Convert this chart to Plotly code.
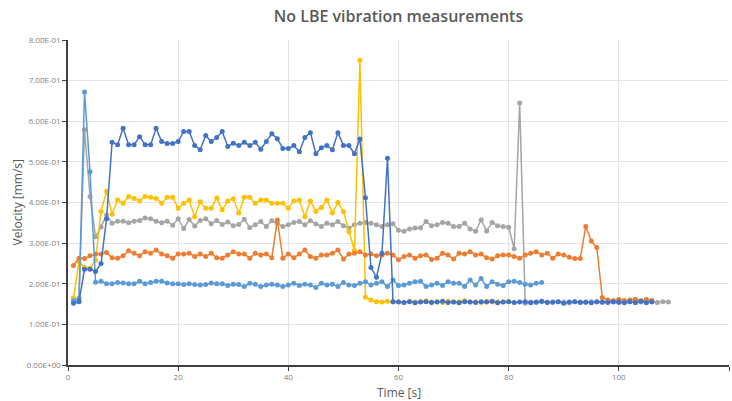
import plotly.graph_objects as go

# ---------------- data (time in s, velocity in mm/s) ----------------
time_s = list(range(1, 111))

dark_blue = [0.152, 0.156, 0.236, 0.236, 0.230, 0.250, 0.360, 0.548, 0.542, 0.583,
             0.542, 0.542, 0.562, 0.542, 0.542, 0.583, 0.550, 0.545, 0.545, 0.550,
             0.575, 0.575, 0.540, 0.530, 0.565, 0.550, 0.560, 0.575, 0.538, 0.546,
             0.540, 0.548, 0.540, 0.548, 0.531, 0.550, 0.569, 0.557, 0.533, 0.533,
             0.540, 0.525, 0.560, 0.572, 0.520, 0.535, 0.540, 0.530, 0.572, 0.540,
             0.540, 0.520, 0.556, 0.412, 0.240, 0.216, 0.275, 0.509,
             0.156, 0.155, 0.154, 0.156, 0.153, 0.155, 0.156, 0.154, 0.155, 0.157,
             0.154, 0.155, 0.153, 0.156, 0.155, 0.154, 0.156, 0.155, 0.157, 0.153,
             0.155, 0.156, 0.154, 0.155, 0.156, 0.153, 0.155, 0.157, 0.154, 0.155,
             0.156, 0.152, 0.155, 0.156, 0.154, 0.155, 0.153, 0.156, 0.155, 0.154,
             0.156, 0.155, 0.153, 0.156, 0.154, 0.157, 0.153, 0.156]

orange = [0.245, 0.263, 0.262, 0.269, 0.273, 0.273, 0.277, 0.264, 0.263, 0.269,
          0.281, 0.275, 0.269, 0.279, 0.275, 0.283, 0.273, 0.269, 0.263, 0.273,
          0.273, 0.275, 0.267, 0.273, 0.267, 0.275, 0.264, 0.263, 0.271, 0.279,
          0.273, 0.273, 0.263, 0.275, 0.271, 0.273, 0.264, 0.357, 0.263, 0.273,
          0.264, 0.273, 0.283, 0.267, 0.263, 0.271, 0.271, 0.275, 0.283, 0.261,
          0.273, 0.275, 0.279, 0.271, 0.273, 0.269, 0.271, 0.275, 0.271, 0.259,
          0.267, 0.271, 0.263, 0.269, 0.271, 0.260, 0.263, 0.275, 0.271, 0.261,
          0.275, 0.273, 0.279, 0.271, 0.273, 0.264, 0.261, 0.269, 0.271, 0.271,
          0.267, 0.263, 0.271, 0.275, 0.279, 0.271, 0.275, 0.263, 0.273, 0.271,
          0.265, 0.262, 0.262, 0.341, 0.305, 0.289, 0.166,
          0.160, 0.158, 0.161, 0.159, 0.160, 0.162, 0.158, 0.161, 0.159]

gray = [0.163, 0.165, 0.579, 0.415, 0.316, 0.340, 0.369, 0.349, 0.354, 0.354,
        0.350, 0.354, 0.356, 0.362, 0.360, 0.354, 0.350, 0.354, 0.344, 0.360,
        0.336, 0.358, 0.342, 0.356, 0.360, 0.348, 0.356, 0.346, 0.352, 0.343,
        0.346, 0.359, 0.338, 0.345, 0.353, 0.341, 0.355, 0.349, 0.341, 0.345,
        0.351, 0.353, 0.345, 0.355, 0.347, 0.341, 0.349, 0.345, 0.353, 0.343,
        0.337, 0.345, 0.349, 0.351, 0.349, 0.345, 0.341, 0.345, 0.348, 0.332,
        0.329, 0.335, 0.337, 0.338, 0.353, 0.343, 0.345, 0.351, 0.349, 0.341,
        0.341, 0.349, 0.335, 0.329, 0.357, 0.330, 0.351, 0.343, 0.341, 0.339,
        0.286, 0.645, 0.152,
        0.155, 0.154, 0.156, 0.155, 0.154, 0.156, 0.155, 0.153, 0.156, 0.155,
        0.154, 0.156, 0.155, 0.154, 0.156, 0.155, 0.153, 0.155, 0.156, 0.154,
        0.155, 0.156, 0.155, 0.154, 0.156, 0.155]

yellow = [0.165, 0.255, 0.240, 0.238, 0.258, 0.378, 0.428, 0.371, 0.406, 0.398,
          0.415, 0.410, 0.404, 0.415, 0.413, 0.410, 0.398, 0.413, 0.413, 0.386,
          0.398, 0.406, 0.365, 0.402, 0.386, 0.386, 0.411, 0.382, 0.404, 0.409,
          0.374, 0.413, 0.413, 0.398, 0.406, 0.406, 0.398, 0.398, 0.398, 0.386,
          0.404, 0.406, 0.365, 0.404, 0.378, 0.388, 0.406, 0.374, 0.400, 0.378,
          0.328, 0.282, 0.750, 0.167, 0.160,
          0.156, 0.155, 0.157, 0.155, 0.156, 0.154, 0.157, 0.155, 0.156, 0.158,
          0.155, 0.156, 0.154, 0.157, 0.155, 0.156, 0.158, 0.155, 0.156, 0.154,
          0.157, 0.155, 0.156, 0.155, 0.157]

light_blue = [0.158, 0.160, 0.672, 0.476, 0.204, 0.206, 0.200, 0.200, 0.203, 0.202,
              0.200, 0.200, 0.206, 0.200, 0.203, 0.206, 0.206, 0.202, 0.200, 0.200,
              0.198, 0.200, 0.198, 0.197, 0.198, 0.202, 0.200, 0.200, 0.196, 0.199,
              0.198, 0.193, 0.201, 0.199, 0.193, 0.197, 0.199, 0.197, 0.193, 0.197,
              0.201, 0.196, 0.199, 0.197, 0.191, 0.201, 0.197, 0.199, 0.193, 0.203,
              0.197, 0.196, 0.201, 0.205, 0.197, 0.201, 0.205, 0.193, 0.209, 0.196,
              0.197, 0.201, 0.205, 0.206, 0.193, 0.197, 0.201, 0.196, 0.205, 0.201,
              0.201, 0.193, 0.209, 0.197, 0.213, 0.193, 0.205, 0.199, 0.196, 0.205,
              0.206, 0.203, 0.199, 0.197, 0.201, 0.203]

y_ticks = [0.0, 0.1, 0.2, 0.3, 0.4, 0.5, 0.6, 0.7, 0.8]
y_tick_labels = [f"{v:.2E}" for v in y_ticks]
x_ticks = [0, 20, 40, 60, 80, 100, 120]

# drawing order: first = bottom
series = [
    ("Series 3", gray, "#A5A5A5"),
    ("Series 4", yellow, "#FFC000"),
    ("Series 2", orange, "#ED7D31"),
    ("Series 5", light_blue, "#5B9BD5"),
    ("Series 1", dark_blue, "#4472C4"),
]

fig = go.Figure()
for name, vals, col in series:
    fig.add_trace(go.Scatter(
        x=time_s[:len(vals)], y=vals, name=name, mode="lines+markers",
        line=dict(color=col, width=1.5),
        marker=dict(color=col, size=5, symbol="circle"),
        cliponaxis=False,
    ))

W, H = 732, 401
L, R, T, B = 68, 3, 40, 36
font_family = "Open Sans, Liberation Sans, sans-serif"
fig.update_layout(
    width=W, height=H,
    margin=dict(l=L, r=R, t=T, b=B, autoexpand=False),
    paper_bgcolor="white", plot_bgcolor="white",
    showlegend=False,
    font=dict(family=font_family, color="#595959"),
    title=dict(text="No LBE vibration measurements",
               x=0.5, xref="paper", xanchor="center",
               y=1 - 16 / H, yref="container", yanchor="middle",
               font=dict(size=16, color="#595959", weight=600)),
    annotations=[
        dict(text="Time [s]", xref="paper", yref="paper",
             x=0.5, y=-(392 - (H - B)) / (H - T - B), xanchor="center", yanchor="middle",
             showarrow=False, font=dict(size=12, color="#595959")),
        dict(text="Velocity [mm/s]", xref="paper", yref="paper",
             x=-(L - 17) / (W - L - R), y=0.5, xanchor="center", yanchor="middle",
             textangle=-90, showarrow=False, font=dict(size=12, color="#595959")),
    ],
)
fig.update_xaxes(
    range=[0, 120], tickvals=x_ticks, automargin=False,
    showgrid=True, gridcolor="#E3E3E3", gridwidth=1,
    showline=True, linecolor="#404040", linewidth=1.5,
    ticks="outside", ticklen=4, tickcolor="#404040",
    tickfont=dict(size=8, color="#7F7F7F"),
    zeroline=False,
)
fig.update_yaxes(
    range=[0, 0.8], tickvals=y_ticks, ticktext=y_tick_labels, automargin=False,
    showgrid=True, gridcolor="#E3E3E3", gridwidth=1,
    showline=True, linecolor="#404040", linewidth=1.5,
    ticks="outside", ticklen=4, tickcolor="#404040",
    tickfont=dict(size=8, color="#7F7F7F"),
    zeroline=False,
)

fig.write_html("out.html",
               config={"displayModeBar": False},
               post_script="document.body.style.margin='0';document.body.style.padding='0';")
